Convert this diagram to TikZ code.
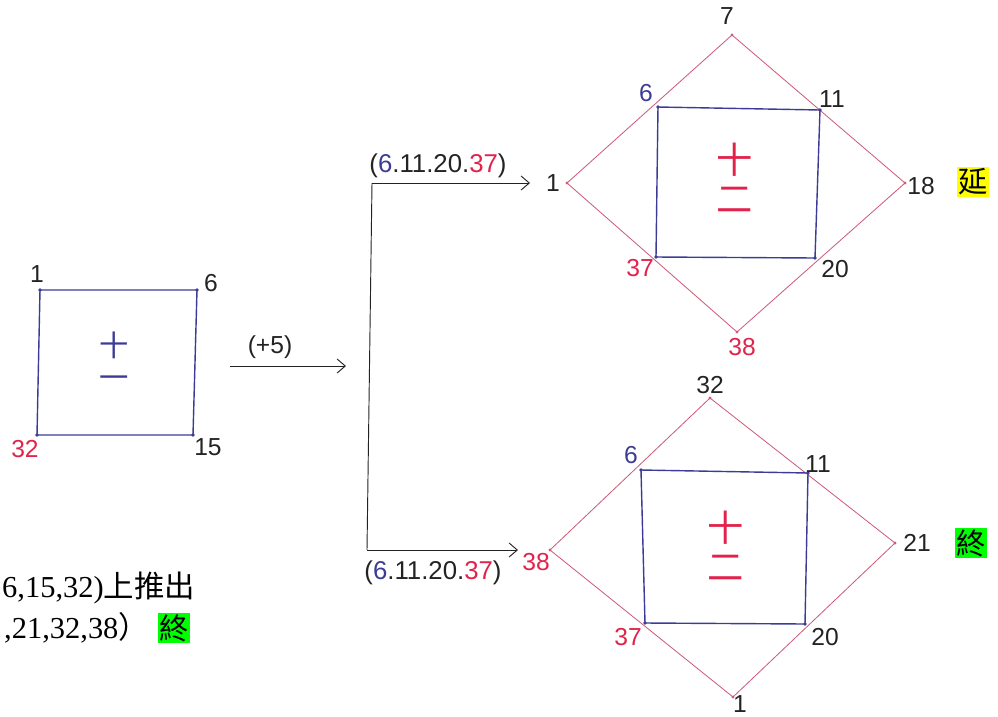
\documentclass[tikz,border=0pt]{standalone}
\usepackage{fontspec}
\setmainfont{Liberation Serif}
\setsansfont{Liberation Sans}
\newfontfamily\cjk{Noto Sans CJK TC}
\definecolor{inkblue}{RGB}{60, 60, 150}
\definecolor{inkred}{RGB}{225, 35, 75}
\definecolor{linered}{RGB}{205, 90, 120}
\definecolor{inkblack}{RGB}{35, 35, 35}
\definecolor{hiyellow}{RGB}{255, 255, 0}
\definecolor{higreen}{RGB}{0, 255, 0}
\usetikzlibrary{arrows.meta, positioning}

\begin{document}
\begin{tikzpicture}[x=0.03cm, y=-0.03cm,
    num/.style={font=\sffamily\fontsize{21}{23}\selectfont, inner sep=1pt, text=inkblack},
    sq/.style={inkblue, line width=1.2pt, line join=round},
    dia/.style={linered, line width=0.7pt, line join=round},
    arr/.style={inkblack, line width=0.8pt, -{Straight Barb[length=7pt, width=12pt]}},
    glyph/.style={font=\cjk\fontsize{31}{33}\selectfont, inner sep=0pt, align=center},
    hilite/.style={font=\cjk\fontsize{25}{27}\selectfont, inner sep=1.5pt},
    note/.style={font=\fontsize{26}{28}\selectfont, inner sep=0pt, anchor=west}]
  \useasboundingbox (0,0) rectangle (998,716);

  % Left square (eleven)
  \coordinate (a1) at (40,290);
  \coordinate (a6) at (197,290);
  \coordinate (a15) at (193,435);
  \coordinate (a32) at (37,435);
  \draw[sq] (a1) -- (a6) -- (a15) -- (a32) -- cycle;
  \foreach \c in {a1,a6,a15,a32} \fill[inkblue] (\c) circle (1.6pt);
  \node[num] (la1) at (37,274) {1};
  \node[num] (la6) at (211,283) {6};
  \node[num] (la15) at (208,447) {15};
  \node[num, text=inkred] (la32) at (25,449) {32};
  \node[glyph, text=inkblue, font=\cjk\fontsize{25}{27}\selectfont] (eleven) at (114,360) {十\\一};

  % Step arrow
  \coordinate (p0) at (230,366);
  \coordinate (p1) at (346,366);
  \draw[arr] (p0) -- (p1);
  \node[num] (plus) at (270,347) {(+5)};

  % Bracket to both results
  \coordinate (k1) at (372,183);
  \coordinate (k2) at (367,550);
  \coordinate (k3) at (530,183);
  \coordinate (k4) at (518,550);
  \draw[inkblack, line width=0.8pt] (k1) -- (k2);
  \draw[arr] (k1) -- (k3);
  \draw[arr] (k2) -- (k4);
  \node[num, font=\sffamily\fontsize{22}{24}\selectfont] (topset) at (438,166) {(\textcolor{inkblue}{6}.11.20.\textcolor{inkred}{37})};
  \node[num, font=\sffamily\fontsize{22}{24}\selectfont] (botset) at (433,573) {(\textcolor{inkblue}{6}.11.20.\textcolor{inkred}{37})};

  % Top diamond
  \coordinate (t7) at (732,35);
  \coordinate (t1) at (567,183);
  \coordinate (t38) at (737,332);
  \coordinate (t18) at (905,183);
  \draw[dia] (t7) -- (t1) -- (t38) -- (t18) -- cycle;
  \foreach \c in {t7,t1,t38,t18} \fill[linered] (\c) circle (1.4pt);
  \coordinate (s6) at (658,107);
  \coordinate (s11) at (820,110);
  \coordinate (s20) at (815,258);
  \coordinate (s37) at (656,257);
  \draw[sq] (s6) -- (s11) -- (s20) -- (s37) -- cycle;
  \foreach \c in {s6,s11,s20,s37} \fill[inkblue] (\c) circle (1.6pt);
  \node[num] (lt7) at (727,16) {7};
  \node[num] (lt1) at (553,183) {1};
  \node[num] (lt18) at (921,186) {18};
  \node[num, text=inkred] (lt38) at (742,347) {38};
  \node[num, text=inkblue] (ls6) at (646,93) {6};
  \node[num] (ls11) at (832,99) {11};
  \node[num] (ls20) at (835,269) {20};
  \node[num, text=inkred] (ls37) at (640,268) {37};
  \node[glyph, text=inkred] (twelve1) at (735,178) {十\\二};
  \node[hilite, fill=hiyellow] (yan) at (973,182) {延};

  % Bottom diamond
  \coordinate (b32) at (710,398);
  \coordinate (b38) at (550,550);
  \coordinate (b1) at (733,697);
  \coordinate (b21) at (895,543);
  \draw[dia] (b32) -- (b38) -- (b1) -- (b21) -- cycle;
  \foreach \c in {b32,b38,b1,b21} \fill[linered] (\c) circle (1.4pt);
  \coordinate (q6) at (641,470);
  \coordinate (q11) at (808,473);
  \coordinate (q20) at (805,624);
  \coordinate (q37) at (645,623);
  \draw[sq] (q6) -- (q11) -- (q20) -- (q37) -- cycle;
  \foreach \c in {q6,q11,q20,q37} \fill[inkblue] (\c) circle (1.6pt);
  \node[num] (lb32) at (710,385) {32};
  \node[num, text=inkred] (lb38) at (536,562) {38};
  \node[num] (lb21) at (917,543) {21};
  \node[num] (lb1) at (740,704) {1};
  \node[num, text=inkblue] (lq6) at (631,455) {6};
  \node[num] (lq11) at (818,464) {11};
  \node[num] (lq20) at (825,637) {20};
  \node[num, text=inkred] (lq37) at (628,637) {37};
  \node[glyph, text=inkred] (twelve2) at (726,546) {十\\二};
  \node[hilite, fill=higreen] (zhong) at (971,543) {終};

  % Notes, lower left
  \node[note] (note1) at (2,588) {6,15,32){\cjk 上推出}};
  \node[note] (note2) at (4,628) {,21,32,38{\cjk ）}};
  \node[hilite, fill=higreen] (zhong0) at (174,628) {終};
\end{tikzpicture}
\end{document}
